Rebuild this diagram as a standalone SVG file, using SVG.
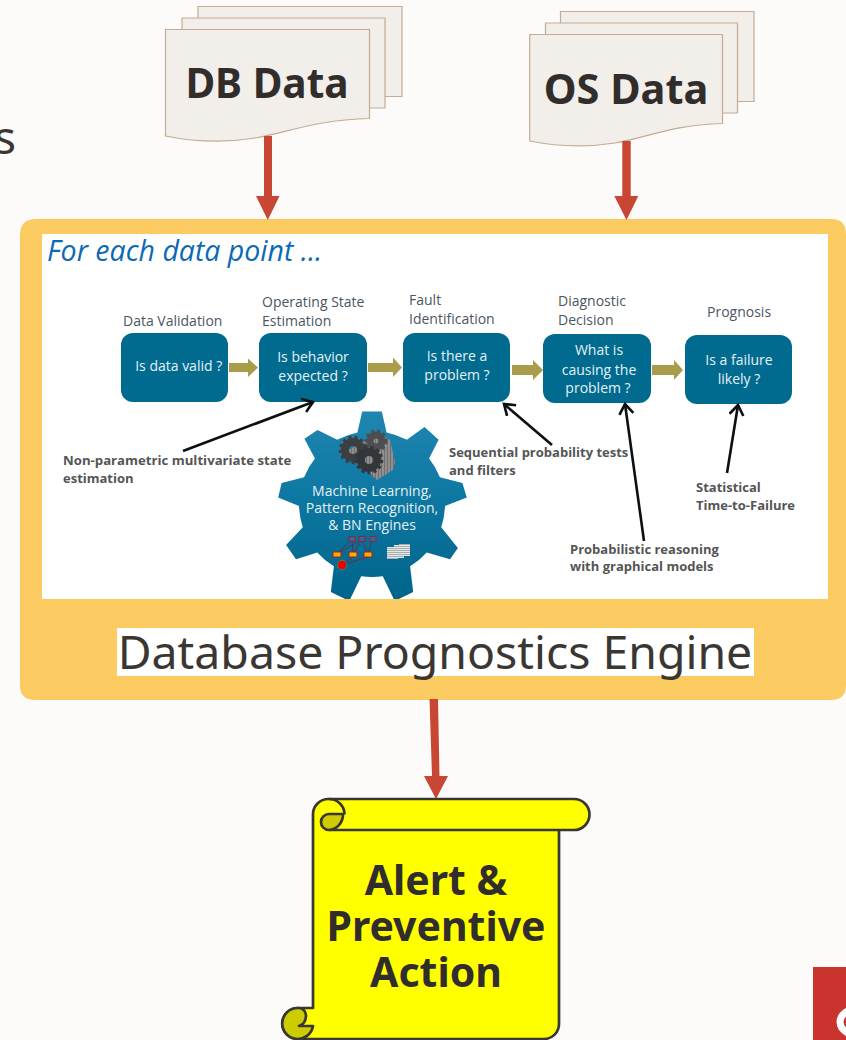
<svg xmlns="http://www.w3.org/2000/svg" width="846" height="1040" viewBox="0 0 846 1040">
<style>
.page{fill:#fcfbf9}
.doc{fill:#f2eeea;stroke:#c4ac93;stroke-width:1.2}
.big{font-family:"Noto Sans","Open Sans",sans-serif;font-weight:700;fill:#312d2a;text-anchor:middle}
.title{font-family:"Noto Sans","Open Sans",sans-serif;fill:#3a3632}
.box{fill:#006b8f}
.bt{font-family:"Open Sans","Noto Sans",sans-serif;font-size:14px;fill:#e4f1f5;text-anchor:middle}
.lab{font-family:"Open Sans","Noto Sans",sans-serif;font-size:14px;fill:#4b5661}
.note{font-family:"Open Sans","Noto Sans",sans-serif;font-size:13px;font-weight:700;fill:#555}
.red{fill:#c74634}
.olive{fill:#aa9c4a}
.blk{fill:none;stroke:#0c1014;stroke-width:2.6;stroke-linecap:butt}
.gt{font-family:"Open Sans","Noto Sans",sans-serif;font-size:14px;fill:#e4f1f5;text-anchor:middle}
.scroll{stroke:#3a3632;stroke-width:2.7;stroke-linejoin:round}
</style>
<defs>
<linearGradient id="gearFill" x1="0" y1="0" x2="0" y2="1"><stop offset="0" stop-color="#1f86b0"/><stop offset="0.45" stop-color="#0d78a2"/><stop offset="1" stop-color="#00638a"/></linearGradient>
<pattern id="hatch" width="3" height="3" patternUnits="userSpaceOnUse"><rect width="3" height="3" fill="#8f8f8f"/><rect width="1" height="3" fill="#6f6f6f"/></pattern>
<pattern id="pages" width="3" height="2" patternUnits="userSpaceOnUse"><rect width="3" height="2" fill="#e6e9e9"/><rect width="3" height="1" fill="#a8adad"/></pattern>
<clipPath id="imgClip"><rect x="42" y="234" width="786" height="365"/></clipPath>
<marker id="open" markerUnits="userSpaceOnUse" markerWidth="18" markerHeight="18" refX="13" refY="8" orient="auto"><path d="M3 1 L13 8 L3 15" fill="none" stroke="#0c1014" stroke-width="2.6"/></marker>
</defs>
<rect class="page" width="846" height="1040"/>
<text class="title" x="16" y="154" font-size="46" text-anchor="end">s</text>

<g id="db-data">
<path class="doc" d="M198 6.5H402V96.5H198Z"/>
<path class="doc" d="M182 18H385V108H182Z"/>
<path class="doc" d="M165.500 29.500H369.500V118.500C315 120 290 132 255 138C225 143 195 142 165.500 136Z"/>
<text class="big" x="267" y="98" font-size="40.600">DB Data</text>
</g>
<g id="os-data">
<path class="doc" d="M560.500 11.500H754V101.500H560.500Z"/>
<path class="doc" d="M545.500 23H737.500V113H545.500Z"/>
<path class="doc" d="M529.700 34.500H722.500V123.500C670 125 650 137 615 143C590 147 560 147 529.700 141Z"/>
<text class="big" x="626" y="104" font-size="41.500">OS Data</text>
</g>

<g id="engine">
<path fill="#fbcb62" d="M36 219H831Q846 219 846 234V685Q846 700 831 700H35Q20 700 20 685V235Q20 219 36 219Z"/>
<rect x="42" y="234" width="786" height="365" fill="#fff"/>
<text x="47" y="261" font-family="'Open Sans','Noto Sans',sans-serif" font-style="italic" font-size="28.500" fill="#0b6ab5">For each data point ...</text>
<rect x="117" y="628" width="637" height="48" fill="#fff"/>
<text class="title" x="435" y="669" font-size="46.400" text-anchor="middle">Database Prognostics Engine</text>
</g>

<g id="step-validation">
<text class="lab" x="123" y="326">Data Validation</text>
<rect class="box" x="121" y="333" width="107" height="69" rx="12"/>
<text class="bt" x="178.700" y="371">Is data valid ?</text>
</g>
<g id="step-state">
<text class="lab" x="262" y="307">Operating State</text>
<text class="lab" x="262" y="326">Estimation</text>
<rect class="box" x="259" y="333" width="108" height="69" rx="12"/>
<text class="bt" x="313" y="362">Is behavior</text>
<text class="bt" x="313" y="381">expected ?</text>
</g>
<g id="step-fault">
<text class="lab" x="409" y="305">Fault</text>
<text class="lab" x="409" y="324">Identification</text>
<rect class="box" x="403" y="333" width="107" height="69" rx="12"/>
<text class="bt" x="457" y="361">Is there a</text>
<text class="bt" x="457" y="380">problem ?</text>
</g>
<g id="step-diagnostic">
<text class="lab" x="558" y="306">Diagnostic</text>
<text class="lab" x="558" y="325">Decision</text>
<rect class="box" x="543" y="334" width="108" height="69" rx="12"/>
<text class="bt" x="599" y="355">What is</text>
<text class="bt" x="599" y="375">causing the</text>
<text class="bt" x="598" y="393">problem ?</text>
</g>
<g id="step-prognosis">
<text class="lab" x="707" y="317">Prognosis</text>
<rect class="box" x="685" y="335" width="107" height="69" rx="12"/>
<text class="bt" x="739" y="365">Is a failure</text>
<text class="bt" x="739" y="384">likely ?</text>
</g>

<g id="gear" clip-path="url(#imgClip)">
<path fill="url(#gearFill)" d="M357.400 432.500L362.200 411.500H381.800L386.600 432.500A73 73 0 0 1 406.800 439.800L424.500 427L438.600 439.700L429.100 458.500A73 73 0 0 1 439.900 477.200L462.400 483L466.800 497.400L445 505.900A73 73 0 0 1 441.200 527.200L457.900 548L450 559.300L426.700 552.400A73 73 0 0 1 410.100 566.300L413.200 592L394.700 601L382.800 576.200A73 73 0 0 1 361.200 576.200L349.300 601L330.800 592L333.900 566.300A73 73 0 0 1 317.300 552.400L296 559.300L286.100 545L302.800 527.200A73 73 0 0 1 299 505.900L278.200 497.400L281.600 483L304.100 477.200A73 73 0 0 1 314.900 458.500L304.400 438.700L317.500 430L337.200 439.800A73 73 0 0 1 357.400 432.500Z"/>
<path fill="url(#hatch)" d="M345 452L378 433L390 440L395 462L393 470L377 480L366 470Z"/>
<circle cx="353" cy="450" r="8" fill="none" stroke="#3c3e40" stroke-width="8"/>
<circle cx="353" cy="450" r="12.500" fill="none" stroke="#3c3e40" stroke-width="3.500" stroke-dasharray="3 3"/>
<circle cx="376" cy="441" r="6" fill="none" stroke="#4c4e50" stroke-width="7"/>
<circle cx="376" cy="441" r="10" fill="none" stroke="#4c4e50" stroke-width="3" stroke-dasharray="3 3"/>
<circle cx="369" cy="460" r="8" fill="none" stroke="#33363a" stroke-width="8"/>
<circle cx="369" cy="460" r="12.500" fill="none" stroke="#33363a" stroke-width="3.500" stroke-dasharray="3 3"/>
<text class="gt" x="372" y="496">Machine Learning,</text>
<text class="gt" x="372" y="513">Pattern Recognition,</text>
<text class="gt" x="372" y="530">&amp; BN Engines</text>
<path stroke="#7a1f3a" stroke-width="0.8" fill="none" d="M337 554L352 539L353 554L362 539L368 554L373 539M342 565L353 557M342 565L368 557M337 554L362 539"/>
<g stroke="#a11e2b" stroke-width="1" fill="#1f6fb0">
<rect x="349" y="536.500" width="6" height="5"/><rect x="359" y="536.500" width="6" height="5"/><rect x="370" y="536.500" width="6" height="5"/>
</g>
<g stroke="#a11e2b" stroke-width="1" fill="#f5b000">
<rect x="333" y="552" width="8" height="5"/><rect x="349" y="552" width="8" height="5"/><rect x="364" y="552" width="8" height="5"/>
</g>
<circle cx="342" cy="565" r="4.800" fill="#e8000b" stroke="#2f8f4e"/>
<g fill="url(#pages)">
<rect x="399" y="544" width="11" height="12"/><rect x="394" y="545" width="10" height="13"/><rect x="387" y="547" width="11" height="12"/>
</g>
</g>

<g id="annotations">
<text class="note" x="63" y="465" font-size="13.200" style="font-size:13.200px">Non-parametric multivariate state</text>
<text class="note" x="63" y="483">estimation</text>
<text class="note" x="449" y="457">Sequential probability tests</text>
<text class="note" x="449" y="475">and filters</text>
<text class="note" x="570" y="554">Probabilistic reasoning</text>
<text class="note" x="570" y="571">with graphical models</text>
<text class="note" x="696" y="492">Statistical</text>
<text class="note" x="696" y="510">Time-to-Failure</text>
</g>

<g id="connectors">
<path class="red" d="M264 136H272V196H279.500L267.800 220L256 196H264Z"/>
<path class="red" d="M622.300 141H630.700V196H638.300L626.500 220L614.300 196H622.300Z"/>
<path class="red" d="M429.500 699H438L439.500 776H448L436 799L424 776H432Z"/>
<path class="olive" d="M229 363H248V358.500L258 367.500L248 377V372H229Z"/>
<path class="olive" d="M368 363H393V357.500L402 367.500L393 377V372H368Z"/>
<path class="olive" d="M512 365H533V360L543 370L533 380V375H512Z"/>
<path class="olive" d="M652 365H674V360L683 370L674 380V375H652Z"/>
<path class="blk" marker-end="url(#open)" d="M183 451L313 402"/>
<path class="blk" marker-end="url(#open)" d="M552 445L504 404"/>
<path class="blk" marker-end="url(#open)" d="M644 541L625 404"/>
<path class="blk" marker-end="url(#open)" d="M727 473L738 405"/>
</g>

<g id="alert">
<path class="scroll" fill="#ffff00" d="M313 815A15.500 15.500 0 0 1 329 799H574A15.500 15.500 0 0 1 574 830H559V1024A15 15 0 0 1 544 1039H298A15.500 15.500 0 0 1 298 1008H313Z"/>
<path class="scroll" fill="#cccc00" d="M329 830A7.750 7.750 0 0 1 329 814H343A15.500 15.500 0 0 1 329 830Z"/>
<path class="scroll" fill="none" d="M329 799A15.500 15.500 0 0 1 344.500 814.500"/>
<path class="scroll" fill="#cccc00" d="M298 1008A15.500 15.500 0 1 0 313 1026H299Q306 1024 306 1015Q305 1008 298 1008Z"/>
<path class="scroll" fill="none" d="M559 830H329"/>
<text class="big" x="436" y="895" font-size="41">Alert &amp;</text>
<text class="big" x="436" y="941" font-size="41">Preventive</text>
<text class="big" x="436" y="987" font-size="41">Action</text>
</g>

<g id="logo">
<rect x="813" y="967" width="33" height="73" fill="#c9352e"/>
<ellipse cx="866" cy="1022" rx="26" ry="15.500" fill="none" stroke="#fff" stroke-width="7"/>
</g>
</svg>
